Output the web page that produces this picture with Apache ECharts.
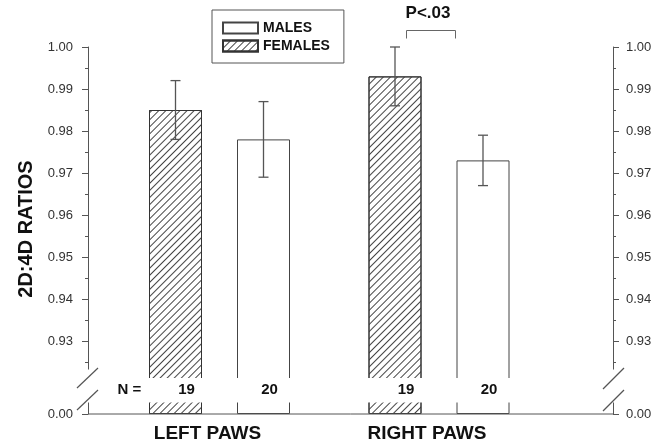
<!DOCTYPE html>
<html>
<head>
<meta charset="utf-8">
<script src="https://cdn.jsdelivr.net/npm/echarts@6/dist/echarts.min.js"></script>
<style>
html, body { margin: 0; padding: 0; background: #fff; }
#main { width: 666px; height: 448px; }
</style>
</head>
<body>
<div id="main"></div>
<script>
// data
var categories = ['LEFT PAWS', 'RIGHT PAWS'];
var femaleMeans = [0.985, 0.993];
var femaleLow = [0.978, 0.986];
var femaleHigh = [0.992, 1.000];
var maleMeans = [0.978, 0.973];
var maleLow = [0.969, 0.967];
var maleHigh = [0.987, 0.979];
var femaleN = [19, 19];
var maleN = [20, 20];

var FONT = 'Liberation Sans';
var AXIS = '#555';
var BAR_W = 53;
var GAP_PX = 35;
var HALF = (BAR_W + GAP_PX) / 2;

var hatch = {
    symbol: 'rect',
    symbolSize: 1,
    color: '#444',
    backgroundColor: 'rgba(0,0,0,0)',
    dashArrayX: [1, 0],
    dashArrayY: [0.9, 3.4],
    rotation: -Math.PI / 4
};
var femaleStyle = { color: '#fff', borderColor: '#333', borderWidth: 1, decal: hatch };
var maleStyle = { color: '#fff', borderColor: '#444', borderWidth: 1 };

var errData = [];
var nData = [];
for (var i = 0; i < categories.length; i++) {
    errData.push([i, femaleLow[i], femaleHigh[i], -1]);
    errData.push([i, maleLow[i], maleHigh[i], 1]);
    nData.push([i, femaleN[i], maleN[i]]);
}

var labelStyle = { fontFamily: FONT, fontSize: 13, color: '#333' };
function fmt(v) { return v.toFixed(2); }

var myChart = echarts.init(document.getElementById('main'));
var option = {
    backgroundColor: '#fff',
    animation: false,
    legend: {
        data: ['MALES', 'FEMALES'],
        orient: 'vertical',
        left: 212,
        top: 10,
        icon: 'rect',
        itemWidth: 35,
        itemHeight: 11,
        itemGap: 4,
        padding: [11, 14, 10, 10],
        borderColor: AXIS,
        borderWidth: 1,
        backgroundColor: '#fff',
        selectedMode: false,
        textStyle: { fontFamily: FONT, fontSize: 14, fontWeight: 'bold', color: '#111' }
    },
    grid: [
        { left: 109.75, right: 117.25, top: 47, height: 336 },
        { left: 109.75, right: 117.25, top: 401, height: 13 }
    ],
    xAxis: [
        { gridIndex: 0, type: 'category', data: categories, show: false },
        {
            gridIndex: 1, type: 'category', data: categories,
            axisLine: { show: false }, axisTick: { show: false },
            axisLabel: { margin: 10, fontFamily: FONT, fontSize: 19, fontWeight: 'bold', color: '#111', padding: [0, 24, 0, 0] }
        }
    ],
    yAxis: [
        {
            gridIndex: 0, type: 'value', position: 'left', offset: 21.75,
            min: 0.92, max: 1.0, interval: 0.01,
            name: '2D:4D RATIOS', nameLocation: 'middle', nameGap: 52, nameRotate: 90,
            nameTextStyle: { fontFamily: FONT, fontSize: 20, fontWeight: 'bold', color: '#111', padding: [0, 28, 0, 0] },
            axisLine: { show: true, lineStyle: { color: AXIS } },
            axisTick: { show: true, length: 6, lineStyle: { color: AXIS } },
            minorTick: { show: true, splitNumber: 2, length: 3, lineStyle: { color: AXIS } },
            splitLine: { show: false },
            axisLabel: Object.assign({ margin: 15, showMinLabel: false, formatter: fmt }, labelStyle)
        },
        {
            gridIndex: 0, type: 'value', position: 'right', offset: 64.25,
            min: 0.92, max: 1.0, interval: 0.01,
            axisLine: { show: true, lineStyle: { color: AXIS } },
            axisTick: { show: true, length: 6, lineStyle: { color: AXIS } },
            minorTick: { show: true, splitNumber: 2, length: 3, lineStyle: { color: AXIS } },
            splitLine: { show: false },
            axisLabel: Object.assign({ margin: 13, showMinLabel: false, formatter: fmt }, labelStyle)
        },
        {
            gridIndex: 1, type: 'value', position: 'left', offset: 21.75,
            min: 0, max: 0.01,
            axisLine: { show: true, lineStyle: { color: AXIS } },
            axisTick: { show: true, length: 6, customValues: [0], lineStyle: { color: AXIS } },
            splitLine: { show: false },
            axisLabel: Object.assign({ margin: 15, customValues: [0], formatter: fmt }, labelStyle)
        },
        {
            gridIndex: 1, type: 'value', position: 'right', offset: 64.25,
            min: 0, max: 0.01,
            axisLine: { show: true, lineStyle: { color: AXIS } },
            axisTick: { show: true, length: 6, customValues: [0], lineStyle: { color: AXIS } },
            splitLine: { show: false },
            axisLabel: Object.assign({ margin: 13, customValues: [0], formatter: fmt }, labelStyle)
        }
    ],
    series: [
        { name: 'FEMALES', type: 'bar', xAxisIndex: 0, yAxisIndex: 0, data: femaleMeans, barWidth: BAR_W, barGap: (GAP_PX / BAR_W * 100) + '%', itemStyle: femaleStyle, clip: true },
        { name: 'MALES', type: 'bar', xAxisIndex: 0, yAxisIndex: 0, data: maleMeans, barWidth: BAR_W, itemStyle: maleStyle, clip: true },
        { name: 'FEMALES', type: 'bar', xAxisIndex: 1, yAxisIndex: 2, data: femaleMeans, barWidth: BAR_W, barGap: (GAP_PX / BAR_W * 100) + '%', itemStyle: femaleStyle, clip: true },
        { name: 'MALES', type: 'bar', xAxisIndex: 1, yAxisIndex: 2, data: maleMeans, barWidth: BAR_W, itemStyle: maleStyle, clip: true },
        {
            type: 'custom', xAxisIndex: 0, yAxisIndex: 0, z: 4,
            data: errData,
            encode: { x: 0, y: [1, 2] },
            renderItem: function (params, api) {
                var hi = api.coord([api.value(0), api.value(2)]);
                var lo = api.coord([api.value(0), api.value(1)]);
                var x = hi[0] + api.value(3) * HALF;
                var st = { stroke: '#555', lineWidth: 1.3 };
                return {
                    type: 'group',
                    children: [
                        { type: 'line', shape: { x1: x, y1: hi[1], x2: x, y2: lo[1] }, style: st },
                        { type: 'line', shape: { x1: x - 5, y1: hi[1], x2: x + 5, y2: hi[1] }, style: st },
                        { type: 'line', shape: { x1: x - 5, y1: lo[1], x2: x + 5, y2: lo[1] }, style: st }
                    ]
                };
            }
        },
        {
            type: 'custom', xAxisIndex: 1, yAxisIndex: 2, z: 20,
            data: nData,
            encode: { x: 0 },
            renderItem: function (params, api) {
                var p = api.coord([api.value(0), 0]);
                var ts = { fontFamily: FONT, fontSize: 15, fontWeight: 'bold', fill: '#111', align: 'center', verticalAlign: 'middle' };
                return {
                    type: 'group',
                    children: [
                        { type: 'text', x: p[0] - HALF + 11, y: p[1] - 24.5, style: Object.assign({ text: String(api.value(1)) }, ts) },
                        { type: 'text', x: p[0] + HALF + 6, y: p[1] - 24.5, style: Object.assign({ text: String(api.value(2)) }, ts) }
                    ]
                };
            }
        }
    ],
    graphic: [
        // axis break band
        { type: 'rect', z: 10, shape: { x: 70, y: 378, width: 560, height: 24.5 }, style: { fill: '#fff' } },
        { type: 'rect', z: 10, shape: { x: 83, y: 369.5, width: 10, height: 9 }, style: { fill: '#fff' } },
        { type: 'rect', z: 10, shape: { x: 608, y: 369.5, width: 10, height: 9 }, style: { fill: '#fff' } },
        { type: 'line', z: 11, shape: { x1: 77, y1: 388, x2: 98, y2: 368 }, style: { stroke: AXIS, lineWidth: 1.2 } },
        { type: 'line', z: 11, shape: { x1: 77, y1: 410, x2: 98, y2: 390 }, style: { stroke: AXIS, lineWidth: 1.2 } },
        { type: 'line', z: 11, shape: { x1: 603, y1: 389, x2: 624, y2: 368 }, style: { stroke: AXIS, lineWidth: 1.2 } },
        { type: 'line', z: 11, shape: { x1: 603, y1: 411, x2: 624, y2: 390 }, style: { stroke: AXIS, lineWidth: 1.2 } },
        // baseline
        { type: 'line', z: 11, shape: { x1: 88, y1: 414, x2: 613, y2: 414 }, style: { stroke: AXIS, lineWidth: 1 } },
        { type: 'text', z: 20, x: 129.5, y: 389.5, style: { text: 'N =', fontFamily: FONT, fontSize: 15, fontWeight: 'bold', fill: '#111', align: 'center', verticalAlign: 'middle' } },
        // significance bracket
        { type: 'text', z: 20, x: 428, y: 13, style: { text: 'P<.03', fontFamily: FONT, fontSize: 17, fontWeight: 'bold', fill: '#111', align: 'center', verticalAlign: 'middle' } },
        { type: 'polyline', z: 20, shape: { points: [[406.5, 38.5], [406.5, 30.5], [455.5, 30.5], [455.5, 38.5]] }, style: { stroke: '#666', lineWidth: 1, fill: null } }
    ]
};
myChart.setOption(option);
</script>
</body>
</html>
